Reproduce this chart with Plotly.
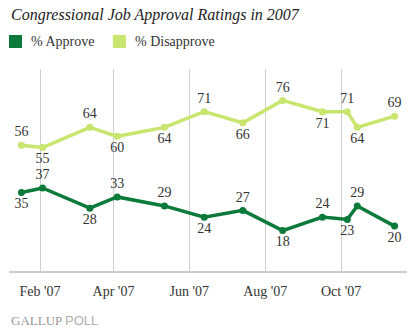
import plotly.graph_objects as go

dates = ["2007-01-17", "2007-02-03", "2007-03-13", "2007-04-04", "2007-05-12", "2007-06-13",
         "2007-07-14", "2007-08-15", "2007-09-16", "2007-10-06", "2007-10-14", "2007-11-13"]
approve = [35, 37, 28, 33, 29, 24, 27, 18, 24, 23, 29, 20]
disapprove = [56, 55, 64, 60, 64, 71, 66, 76, 71, 71, 64, 69]
approve_pos = ["bottom", "top", "bottom", "top", "top", "bottom", "top", "bottom", "top", "bottom", "top", "bottom"]
disapprove_pos = ["top", "bottom", "top", "bottom", "bottom", "top", "bottom", "top", "bottom", "top", "bottom", "top"]
tick_vals = ["2007-02-01", "2007-04-01", "2007-06-01", "2007-08-01", "2007-10-01"]
tick_text = ["Feb '07", "Apr '07", "Jun '07", "Aug '07", "Oct '07"]

C_APP = "#0B7A3B"
C_DIS = "#C8E56E"
FONT = "Liberation Serif, Times New Roman, serif"

fig = go.Figure()
for vals, pos, col in [(disapprove, disapprove_pos, C_DIS), (approve, approve_pos, C_APP)]:
    fig.add_trace(go.Scatter(
        x=dates, y=vals, mode="lines+markers+text",
        text=[str(v) for v in vals],
        textposition=[p + " center" for p in pos],
        textfont=dict(family=FONT, size=14, color="#333333"),
        line=dict(color=col, width=3.5),
        marker=dict(color=col, size=7),
        showlegend=False, cliponaxis=False,
    ))

fig.update_layout(
    width=420, height=330,
    margin=dict(l=9, r=13, t=69, b=59),
    paper_bgcolor="white", plot_bgcolor="white",
    xaxis=dict(
        type="date", range=["2007-01-07", "2007-11-23"],
        tickvals=tick_vals, ticktext=tick_text,
        showgrid=True, gridcolor="#d0d0d0", gridwidth=1,
        showline=True, linecolor="#cccccc", linewidth=2,
        ticks="", ticklabelstandoff=6,
        tickfont=dict(family=FONT, size=14, color="#333333"),
        zeroline=False, fixedrange=True,
    ),
    yaxis=dict(range=[0, 90], showgrid=False, showticklabels=False, zeroline=False,
               showline=False, fixedrange=True),
    font=dict(family=FONT),
)

fig.add_annotation(xref="paper", yref="paper", x=0.0, y=(271 - 15) / 202, xanchor="left", yanchor="middle",
                   text="<i>Congressional Job Approval Ratings in 2007</i>", showarrow=False,
                   font=dict(family=FONT, size=16, color="#222222"))

for x0, col, label in [(0.0, C_APP, "% Approve"), (0.261, C_DIS, "% Disapprove")]:
    fig.add_shape(type="rect", xref="paper", yref="paper",
                  x0=x0, x1=x0 + 13 / 398, y0=(271 - 48) / 202, y1=(271 - 35) / 202,
                  fillcolor=col, line=dict(width=0))
    fig.add_annotation(xref="paper", yref="paper", x=x0 + 20 / 398, y=(271 - 41.5) / 202,
                       xanchor="left", yanchor="middle", text=label, showarrow=False,
                       font=dict(family=FONT, size=14, color="#333333"))

fig.add_annotation(xref="paper", yref="paper", x=0.0, y=(271 - 320) / 202, xanchor="left", yanchor="middle",
                   text="GALLUP <span style='font-family:Liberation Sans;color:#b0b0b0'>POLL</span>",
                   showarrow=False, font=dict(family=FONT, size=13, color="#999999"))

fig.write_html("out.html")
